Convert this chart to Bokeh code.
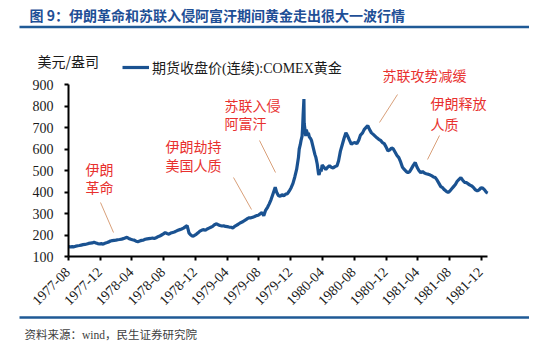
import math
import pandas as pd
from bokeh.plotting import figure
from bokeh.models import (Range1d, FixedTicker, DatetimeTickFormatter, Label, Arrow,
                          Legend, LegendItem, ColumnDataSource)
from bokeh.embed import file_html
from bokeh.resources import INLINE

# ---------------- data ----------------
dates = [
    "1977-08-01", "1977-08-08", "1977-08-15", "1977-08-22", "1977-08-29",
    "1977-09-06", "1977-09-12", "1977-09-19", "1977-09-26",
    "1977-10-03", "1977-10-10", "1977-10-17", "1977-10-24", "1977-10-31",
    "1977-11-07", "1977-11-14", "1977-11-21", "1977-11-28",
    "1977-12-05", "1977-12-12", "1977-12-19", "1977-12-27",
    "1978-01-03", "1978-01-09", "1978-01-16", "1978-01-23", "1978-01-30",
    "1978-02-06", "1978-02-13", "1978-02-21", "1978-02-27",
    "1978-03-06", "1978-03-13", "1978-03-20", "1978-03-28",
    "1978-04-03", "1978-04-10", "1978-04-17", "1978-04-24",
    "1978-05-01", "1978-05-08", "1978-05-15", "1978-05-22", "1978-05-30",
    "1978-06-05", "1978-06-12", "1978-06-19", "1978-06-26",
    "1978-07-03", "1978-07-10", "1978-07-17", "1978-07-24", "1978-07-31",
    "1978-08-07", "1978-08-14", "1978-08-21", "1978-08-28",
    "1978-09-05", "1978-09-11", "1978-09-18", "1978-09-25",
    "1978-10-02", "1978-10-09", "1978-10-16", "1978-10-23", "1978-10-30",
    "1978-11-03", "1978-11-06", "1978-11-13", "1978-11-20", "1978-11-27",
    "1978-12-04", "1978-12-11", "1978-12-18", "1978-12-26",
    "1979-01-02", "1979-01-08", "1979-01-15", "1979-01-22", "1979-01-29",
    "1979-02-05", "1979-02-12", "1979-02-20", "1979-02-26",
    "1979-03-05", "1979-03-12", "1979-03-19", "1979-03-26",
    "1979-04-02", "1979-04-09", "1979-04-17", "1979-04-23", "1979-04-30",
    "1979-05-07", "1979-05-14", "1979-05-21", "1979-05-29",
    "1979-06-04", "1979-06-11", "1979-06-18", "1979-06-25",
    "1979-07-02", "1979-07-09", "1979-07-16", "1979-07-23", "1979-07-30",
    "1979-08-06", "1979-08-13", "1979-08-20", "1979-08-27",
    "1979-09-04", "1979-09-10", "1979-09-17", "1979-09-24",
    "1979-10-01", "1979-10-03", "1979-10-08", "1979-10-15", "1979-10-22", "1979-10-29",
    "1979-11-05", "1979-11-12", "1979-11-19", "1979-11-26",
    "1979-12-03", "1979-12-10", "1979-12-17", "1979-12-24", "1979-12-31",
    "1980-01-03", "1980-01-07", "1980-01-10", "1980-01-14", "1980-01-16",
    "1980-01-18", "1980-01-21", "1980-01-22", "1980-01-24", "1980-01-28", "1980-01-30",
    "1980-02-04", "1980-02-07", "1980-02-11", "1980-02-15", "1980-02-19", "1980-02-25",
    "1980-03-03", "1980-03-07", "1980-03-12", "1980-03-17", "1980-03-19",
    "1980-03-24", "1980-03-27", "1980-03-31",
    "1980-04-07", "1980-04-14", "1980-04-21", "1980-04-28",
    "1980-05-05", "1980-05-12", "1980-05-19", "1980-05-27",
    "1980-06-02", "1980-06-09", "1980-06-16", "1980-06-23", "1980-06-30",
    "1980-07-07", "1980-07-14", "1980-07-21", "1980-07-28",
    "1980-08-04", "1980-08-11", "1980-08-18", "1980-08-25",
    "1980-09-02", "1980-09-08", "1980-09-15", "1980-09-22", "1980-09-29",
    "1980-10-06", "1980-10-13", "1980-10-20", "1980-10-27",
    "1980-11-03", "1980-11-10", "1980-11-17", "1980-11-24",
    "1980-12-01", "1980-12-08", "1980-12-15", "1980-12-22", "1980-12-29",
    "1981-01-05", "1981-01-12", "1981-01-19", "1981-01-26",
    "1981-02-02", "1981-02-09", "1981-02-17", "1981-02-23",
    "1981-03-02", "1981-03-09", "1981-03-16", "1981-03-23", "1981-03-30",
    "1981-04-06", "1981-04-13", "1981-04-20", "1981-04-27",
    "1981-05-04", "1981-05-11", "1981-05-18", "1981-05-26",
    "1981-06-01", "1981-06-08", "1981-06-15", "1981-06-22", "1981-06-29",
    "1981-07-06", "1981-07-13", "1981-07-20", "1981-07-27",
    "1981-08-03", "1981-08-10", "1981-08-17", "1981-08-24", "1981-08-31",
    "1981-09-08", "1981-09-14", "1981-09-21", "1981-09-28",
    "1981-10-05", "1981-10-12", "1981-10-19", "1981-10-26",
    "1981-11-02", "1981-11-09", "1981-11-16", "1981-11-23", "1981-11-30",
    "1981-12-07", "1981-12-14", "1981-12-21", "1981-12-26",
]
prices = [
    147, 144, 146, 145, 148,
    150, 151, 153, 155,
    156, 158, 161, 162, 163,
    166, 163, 160, 158,
    160, 157, 162, 165,
    168, 172, 174, 175, 176,
    178, 179, 181, 183,
    186, 189, 184, 180,
    178, 176, 171, 169,
    172, 175, 176, 180, 182,
    183, 184, 186, 184,
    187, 192, 195, 200, 205,
    211, 207, 204, 209,
    212, 214, 218, 222,
    225, 228, 232, 238, 244,
    225, 210, 200, 194, 198,
    203, 210, 218, 223,
    225, 222, 228, 232, 236,
    240, 248, 252, 248,
    244, 242, 243, 240,
    239, 237, 236, 233, 240,
    245, 250, 256, 260,
    265, 270, 276, 280,
    280, 283, 286, 290, 292,
    298, 305, 290, 315,
    330, 345, 365, 390,
    415, 422, 400, 384, 380, 388,
    382, 390, 392, 405,
    420, 440, 470, 505, 560,
    600, 620, 640, 660, 700,
    760, 832, 720, 700, 660, 690,
    670, 675, 655, 650, 640, 610,
    575, 560, 530, 485, 480,
    505, 495, 525,
    515, 505, 515, 522,
    515, 512, 518, 522,
    545, 590, 620, 650, 675,
    660, 640, 622, 628,
    630, 625, 640, 665,
    675, 690, 700, 708, 690,
    675, 668, 660, 652,
    645, 640, 630, 625,
    610, 592, 595, 605, 600,
    585, 570, 560, 540,
    515, 505, 495, 490,
    495, 510, 525, 537, 515,
    500, 490, 495, 488,
    485, 483, 480, 475,
    470, 467, 455, 440, 425,
    420, 410, 403, 398,
    405, 415, 425, 435, 450,
    460, 467, 455, 445,
    444, 438, 432, 428,
    420, 410, 405, 410, 420,
    418, 410, 398, 395,
]
tick_labels = ["1977-08", "1977-12", "1978-04", "1978-08", "1978-12", "1979-04",
               "1979-08", "1979-12", "1980-04", "1980-08", "1980-12", "1981-04",
               "1981-08", "1981-12"]
y_ticks = [100, 200, 300, 400, 500, 600, 700, 800, 900]
series_name = "期货收盘价(连续):COMEX黄金"
title_text = "图 9：伊朗革命和苏联入侵阿富汗期间黄金走出很大一波行情"
unit_text = "美元/盎司"
source_text = "资料来源：wind，民生证券研究院"

# annotation texts: (text, page-x, page-y center)
notes = [
    ("伊朗", 93, 176), ("革命", 93, 194),
    ("伊朗劫持", 173, 153), ("美国人质", 173, 172),
    ("苏联入侵", 232, 112), ("阿富汗", 232, 130),
    ("苏联攻势减缓", 390, 82),
    ("伊朗释放", 438, 110), ("人质", 438, 131),
]
# callout lines in page pixels
callouts = [
    ((108, 210), (121, 240)),
    ((241, 185), (259, 217)),
    ((267, 148), (283, 180)),
    ((405, 102), (387, 130)),
    ((447, 143), (435, 167)),
]

# ---------------- layout ----------------
W, H = 529, 345
PAGE_L, PAGE_T = 8, 8
PAGE_R, PAGE_B = PAGE_L + W, PAGE_T + H
AX_L, AX_R, AX_T, AX_B = 76, 495, 92, 264     # axis box in page pixels

t0 = pd.Timestamp("1977-08-01")
t_last = pd.Timestamp("1981-12-01")
tick_last_px = 488.7
dpp = (t_last - t0) / (tick_last_px - AX_L)     # timedelta per pixel
upp = (900 - 100) / (AX_B - AX_T)               # value per pixel

x_start = t0 - dpp * (AX_L - PAGE_L)
x_end = t0 + dpp * (PAGE_R - AX_L)
y_start = 100 - upp * (PAGE_B - AX_B)
y_end = 900 + upp * (AX_T - PAGE_T)
x_axis_end = t0 + dpp * (AX_R - AX_L)


def ms(t):
    return t.value / 1e6


def sx(px):
    return px - PAGE_L


def sy(py):
    return PAGE_B - py


x = pd.to_datetime(dates)
src = ColumnDataSource(dict(x=x, y=prices))

p = figure(width=W, height=H, output_backend="svg", toolbar_location=None,
           x_axis_type="datetime",
           x_range=Range1d(x_start, x_end), y_range=Range1d(y_start, y_end),
           min_border=0, min_border_left=0, min_border_right=0,
           min_border_top=0, min_border_bottom=0)
p.outline_line_color = None
p.grid.visible = False
p.background_fill_color = "white"
p.border_fill_color = "white"

r = p.line("x", "y", source=src, line_color="#1A5291", line_width=3.2)

tick_ms = [ms(pd.Timestamp(t + "-01")) for t in tick_labels]
p.xaxis.ticker = FixedTicker(ticks=tick_ms)
fmt = "%Y-%m"
p.xaxis.formatter = DatetimeTickFormatter(years=fmt, months=fmt, days=fmt, hours=fmt,
                                          minutes=fmt, seconds=fmt, milliseconds=fmt,
                                          minsec=fmt, hourmin=fmt)
p.yaxis.ticker = FixedTicker(ticks=y_ticks)
p.xaxis.fixed_location = 100
p.yaxis.fixed_location = ms(t0)
p.xaxis.bounds = (ms(t0), ms(x_axis_end))
p.yaxis.bounds = (100, 900)

for axes in (p.xaxis, p.yaxis):
    axes.axis_line_color = "black"
    axes.axis_line_width = 2
    axes.major_tick_line_color = "black"
    axes.major_tick_line_width = 2
    axes.major_tick_out = 4
    axes.major_tick_in = 0
    axes.minor_tick_line_color = None
# tick texts are drawn below as serif labels at the tick positions
p.xaxis.major_label_overrides = {t: "" for t in tick_ms}
p.yaxis.major_label_overrides = {v: "" for v in y_ticks}

SERIF = "'Liberation Serif', 'Times New Roman', serif"
for t, lab in zip(tick_ms, tick_labels):
    p.add_layout(Label(x=t, y=100, text=lab, angle=math.pi / 4,
                       text_align="right", text_baseline="middle",
                       x_offset=-1, y_offset=-13,
                       text_font=SERIF, text_font_size="14px",
                       text_color="#1a1a1a"))
for v in y_ticks:
    p.add_layout(Label(x=ms(t0), y=v, text=str(v),
                       text_align="right", text_baseline="middle",
                       x_offset=-15, y_offset=0,
                       text_font=SERIF, text_font_size="14px",
                       text_color="#1a1a1a"))

# legend
legend = Legend(items=[LegendItem(label=series_name, renderers=[r])],
                location=(sx(130), sy(77) - 8),
                padding=0, margin=0, spacing=0, label_standoff=3,
                glyph_width=27, glyph_height=16, label_height=16,
                border_line_alpha=0, background_fill_alpha=0,
                label_text_font="'Liberation Serif', 'Noto Sans CJK SC'",
                label_text_font_size="14px", label_text_color="#1a1a1a")
p.add_layout(legend, "center")

CJK = "'Noto Sans CJK SC'"


def add_label(text, px, py, size, color, style="normal", font=CJK):
    p.add_layout(Label(x=sx(px), y=sy(py), x_units="screen", y_units="screen",
                       text=text, text_font=font, text_font_size=size,
                       text_color=color, text_font_style=style,
                       text_baseline="middle", text_align="left"))


def add_line(p0, p1, color, width):
    p.add_layout(Arrow(end=None, x_start=sx(p0[0]), y_start=sy(p0[1]),
                       x_end=sx(p1[0]), y_end=sy(p1[1]),
                       start_units="screen", end_units="screen",
                       line_color=color, line_width=width))


# title and rules
add_label(title_text, 37, 22, "14px", "#1F4F96", style="bold")
add_line((27, 34.5), (538, 34.5), "#1F5A96", 2.5)
add_line((27, 325), (538, 325), "#1F5A96", 2.5)
add_label(source_text, 32, 342, "11.5px", "#404040",
          font="'Liberation Serif', 'Noto Sans CJK SC'")

# axis unit label
add_label(unit_text, 45, 68, "14px", "#1a1a1a")

# annotations
for t, px, py in notes:
    add_label(t, px, py, "14px", "#E8302E")
for a, b in callouts:
    add_line(a, b, "#D9A07A", 1)

open("out.html", "w").write(file_html(p, INLINE))
